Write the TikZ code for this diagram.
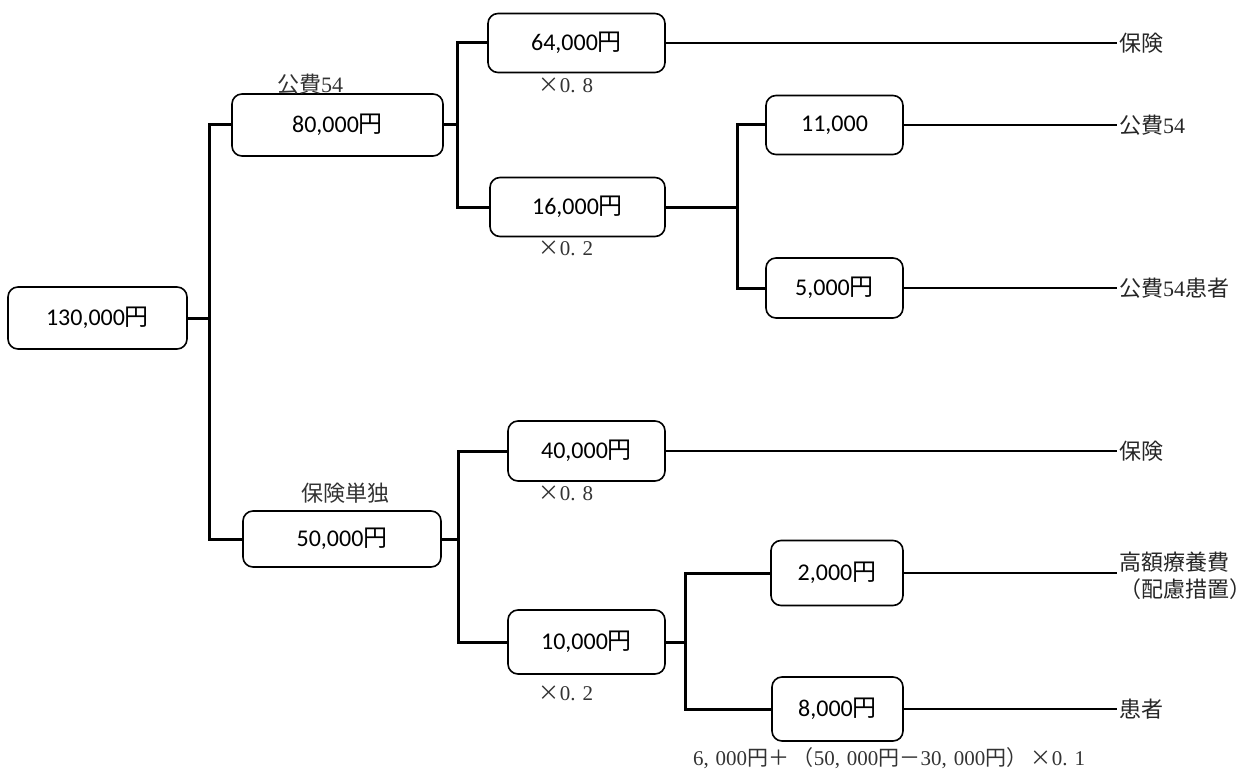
\documentclass[tikz,border=0pt]{standalone}
\usepackage{fontspec}
\setmainfont{Liberation Serif}
\newfontfamily\cjk{Noto Sans CJK JP}
\newfontfamily\numfont{Carlito}
\usetikzlibrary{calc}
% amount in yen, as printed inside the boxes
\newcommand{\sumyen}[1]{{\numfont #1}{\cjk 円}}
\begin{document}
\begin{tikzpicture}[x=1pt,y=-1pt,
  box/.style={draw, rounded corners=10pt, line width=1.6pt, inner sep=0pt,
    font=\numfont\fontsize{24}{28}\selectfont},
  trunk/.style={line width=3pt},
  lead/.style={line width=1.1pt},
  tag/.style={font=\cjk\fontsize{22}{27}\selectfont, text=black!85, inner xsep=2pt, inner ysep=0pt, anchor=west, align=left},
  head/.style={font=\fontsize{22}{26}\selectfont, text=black!80, inner sep=0pt},
  factor/.style={font=\fontsize{21}{24}\selectfont, text=black!80, inner sep=0pt}]
\path[use as bounding box] (0,0) rectangle (1256,773);

% amount boxes
\node[box, minimum width=179pt, minimum height=62pt] (n130) at (97.5,318) {\sumyen{130,000}};
\node[box, minimum width=211pt, minimum height=62pt] (n80) at (337.5,125) {\sumyen{80,000}};
\node[box, minimum width=198pt, minimum height=56pt] (n50) at (342,539) {\sumyen{50,000}};
\node[box, minimum width=177pt, minimum height=59pt] (n64) at (576.5,43) {\sumyen{64,000}};
\node[box, minimum width=175pt, minimum height=59pt] (n16) at (577.5,207) {\sumyen{16,000}};
\node[box, minimum width=137pt, minimum height=59pt] (n11) at (834.5,125) {{\numfont 11,000}};
\node[box, minimum width=137pt, minimum height=60pt] (n5) at (834.5,288) {\sumyen{5,000}};
\node[box, minimum width=157pt, minimum height=60pt] (n40) at (586.5,451) {\sumyen{40,000}};
\node[box, minimum width=157pt, minimum height=64pt] (n10) at (586.5,642) {\sumyen{10,000}};
\node[box, minimum width=132pt, minimum height=65pt] (n2) at (837,573) {\sumyen{2,000}};
\node[box, minimum width=131pt, minimum height=64pt] (n8) at (837.5,709) {\sumyen{8,000}};

% headings above the second-level boxes
\node[head] (h80) at (310,84) {{\cjk 公費}54};
\node[head] (h50) at (345,493) {{\cjk 保険単独}};

% multipliers
\node[factor] (f64) at (566,85) {{\cjk ×}0.\,\,8};
\node[factor] (f16) at (566,248) {{\cjk ×}0.\,\,2};
\node[factor] (f40) at (566,493) {{\cjk ×}0.\,\,8};
\node[factor] (f10) at (566,693) {{\cjk ×}0.\,\,2};
\node[factor] (calc8) at (889,758) {6,\,\,000{\cjk 円＋}\,{\cjk （}50,\,\,000{\cjk 円－}30,\,\,000{\cjk 円）}\,{\cjk ×}0.\,\,1};

% payers on the right
\node[tag] (t64) at (1117,43) {保険};
\node[tag] (t11) at (1117,125) {公費{\rmfamily 54}};
\node[tag] (t5) at (1117,288) {公費{\rmfamily 54}患者};
\node[tag] (t40) at (1117,451) {保険};
\node[tag] (t2) at (1117,576) {高額療養費\\（配慮措置）};
\node[tag] (t8) at (1117,709) {患者};

% branch points
\coordinate (j1) at (209,318);
\coordinate (j2) at (457,125);
\coordinate (j3) at (737,207);
\coordinate (j4) at (458,539);
\coordinate (j5) at (685,642);

% tree connectors
\draw[trunk] (n130.east) -- (j1);
\draw[trunk] (n80.west) -| (j1) |- (n50.west);
\draw[trunk] (n80.east) -- (j2);
\draw[trunk] (n64.west) -| (j2) |- (n16.west);
\draw[trunk] (n16.east) -- (j3);
\draw[trunk] (n11.west) -| (j3) |- (n5.west);
\draw[trunk] (n50.east) -- (j4);
\draw[trunk] (n40.west) -| (j4) |- (n10.west);
\draw[trunk] (n10.east) -- (j5);
\draw[trunk] (n2.west) -| (j5) |- (n8.west);

% leads to the payers
\draw[lead] (n64.east) -- (t64.west);
\draw[lead] (n11.east) -- (t11.west);
\draw[lead] (n5.east) -- (t5.west);
\draw[lead] (n40.east) -- (t40.west);
\draw[lead] (n2.east) -- (n2.east -| t2.west);
\draw[lead] (n8.east) -- (t8.west);
\end{tikzpicture}
\end{document}
